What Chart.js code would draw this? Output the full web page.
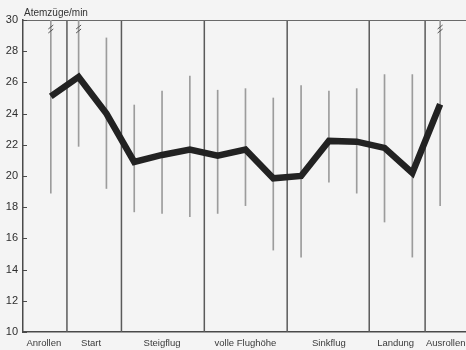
<!DOCTYPE html>
<html>
<head>
<meta charset="utf-8">
<script src="https://cdn.jsdelivr.net/npm/chart.js@4/dist/chart.umd.min.js"></script>
<style>
  html, body { margin: 0; padding: 0; background: #f4f4f4; }
  #wrap { width: 466px; height: 350px; }
</style>
</head>
<body>
<div id="wrap"><canvas id="c" width="466" height="350"></canvas></div>
<script>
// Flight phases shown along the time axis
const phases = ['Anrollen', 'Start', 'Steigflug', 'volle Flughöhe', 'Sinkflug', 'Landung', 'Ausrollen'];
const phaseCenters = [0.75, 2.45, 5, 8, 11, 13.4, 15.2];
const phaseBounds = [1.58, 3.54, 6.52, 9.5, 12.45, 14.46];

// Measurement points (breaths per minute)
const measurement = [1, 2, 3, 4, 5, 6, 7, 8, 9, 10, 11, 12, 13, 14, 15];
const meanRate = [25.1, 26.35, 24.0, 20.9, 21.35, 21.7, 21.3, 21.7, 19.85, 20.0, 22.25, 22.2, 21.8, 20.2, 24.6];
const rateLow  = [18.9, 21.9, 19.2, 17.7, 17.6, 17.4, 17.6, 18.1, 15.25, 14.8, 19.6, 18.9, 17.05, 14.8, 18.1];
const rateHigh = [31, 31, 28.85, 24.55, 25.45, 26.4, 25.5, 25.6, 25.0, 25.8, 25.45, 25.6, 26.5, 26.5, 31];

// Y axis tick values
const yTicks = [10, 12, 14, 16, 18, 20, 22, 24, 26, 28, 30];

const FONT = "'Liberation Sans', Arial, sans-serif";
const INK = '#4a4a4a';

const decor = {
  id: 'decor',
  beforeDatasetsDraw(chart) {
    const { ctx, chartArea: a, scales: { x, y } } = chart;
    ctx.save();
    // phase separators
    ctx.strokeStyle = '#5a5a5a';
    ctx.lineWidth = 1.5;
    phaseBounds.forEach(b => {
      const px = x.getPixelForValue(b);
      ctx.beginPath();
      ctx.moveTo(px, a.top);
      ctx.lineTo(px, a.bottom);
      ctx.stroke();
    });
    // top frame line
    ctx.strokeStyle = '#6a6a6a';
    ctx.lineWidth = 1;
    ctx.beginPath();
    ctx.moveTo(a.left, a.top + 0.5);
    ctx.lineTo(a.right, a.top + 0.5);
    ctx.stroke();
    // inward tick marks on the y axis
    ctx.strokeStyle = INK;
    ctx.lineWidth = 1;
    yTicks.forEach(v => {
      const py = Math.round(y.getPixelForValue(v)) + 0.5;
      ctx.beginPath();
      ctx.moveTo(a.left, py);
      ctx.lineTo(a.left + 4, py);
      ctx.stroke();
    });
    ctx.restore();
  },
  afterDatasetsDraw(chart) {
    const { ctx, chartArea: a, scales: { x, y } } = chart;
    ctx.save();
    // break marks on ranges running past the top of the axis
    ctx.strokeStyle = '#555';
    ctx.lineWidth = 1;
    measurement.forEach((m, i) => {
      if (rateHigh[i] > y.max) {
        const px = x.getPixelForValue(m);
        [a.top + 7, a.top + 11].forEach(py => {
          ctx.beginPath();
          ctx.moveTo(px - 2.5, py + 2);
          ctx.lineTo(px + 2.5, py - 2);
          ctx.stroke();
        });
      }
    });
    // unit label above the y axis
    ctx.fillStyle = '#333';
    ctx.font = '10px ' + FONT;
    ctx.textBaseline = 'alphabetic';
    ctx.textAlign = 'left';
    ctx.fillText('Atemzüge/min', a.left + 1, a.top - 4);
    ctx.restore();
  }
};

new Chart(document.getElementById('c'), {
  type: 'bar',
  data: {
    datasets: [
      {
        type: 'line',
        data: measurement.map((m, i) => ({ x: m, y: meanRate[i] })),
        borderColor: '#222222',
        borderWidth: 6.5,
        pointRadius: 0,
        tension: 0,
        borderJoinStyle: 'miter',
        order: 0
      },
      {
        type: 'bar',
        data: measurement.map((m, i) => ({ x: m, y: [rateLow[i], rateHigh[i]] })),
        backgroundColor: '#9c9c9c',
        barThickness: 1,
        grouped: false,
        clip: 0,
        order: 1
      }
    ]
  },
  options: {
    responsive: false,
    animation: false,
    events: [],
    layout: { padding: { top: 20, left: 0, right: 0, bottom: 0 } },
    plugins: { legend: { display: false }, tooltip: { enabled: false }, title: { display: false } },
    scales: {
      x: {
        type: 'linear',
        min: 0,
        max: 15.93,
        offset: false,
        grid: { display: true, drawOnChartArea: false, drawTicks: false },
        border: { display: true, color: INK, width: 1.5 },
        afterBuildTicks: s => { s.ticks = phaseCenters.map(v => ({ value: v })); },
        afterFit: s => { s.height = 18; s.paddingLeft = 0; s.paddingRight = 0; },
        ticks: {
          autoSkip: false,
          maxRotation: 0,
          padding: 6,
          color: '#3a3a3a',
          font: { family: FONT, size: 9.5 },
          callback: (v, i) => phases[i]
        }
      },
      y: {
        min: 10,
        max: 30,
        grid: { display: true, drawOnChartArea: false, drawTicks: false },
        border: { display: true, color: INK, width: 1.5 },
        afterBuildTicks: s => { s.ticks = yTicks.map(v => ({ value: v })); },
        afterFit: s => { s.width = 23; s.paddingTop = 0; s.paddingBottom = 0; },
        ticks: {
          padding: 5,
          color: '#2e2e2e',
          font: { family: FONT, size: 11 }
        }
      }
    }
  },
  plugins: [decor]
});
</script>
</body>
</html>
